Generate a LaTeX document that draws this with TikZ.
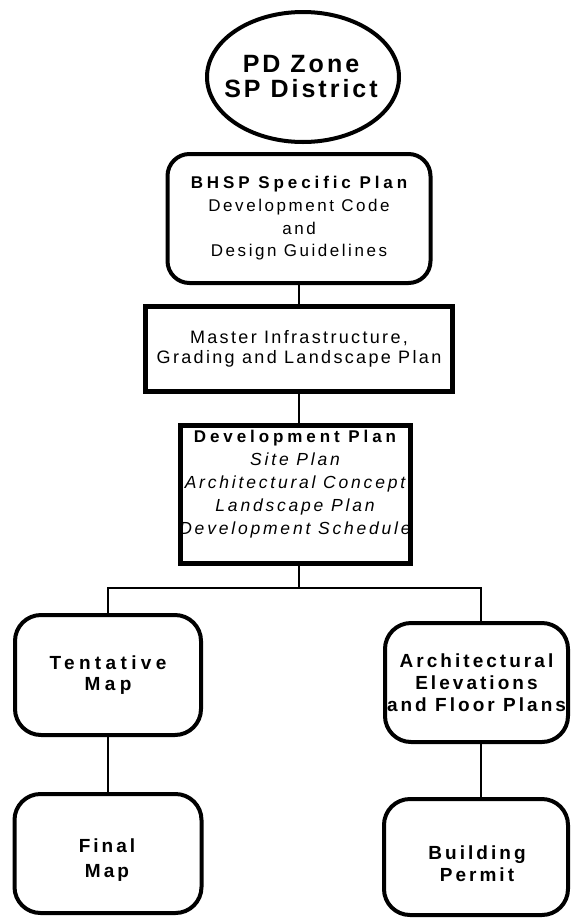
\documentclass[tikz,border=0pt]{standalone}
\usepackage{fontspec}
\setmainfont{Liberation Sans}
\newfontfamily\sfreg[LetterSpace=15]{Liberation Sans}
\newfontfamily\sfregM[LetterSpace=13]{Liberation Sans}
\newfontfamily\sfita[LetterSpace=16]{Liberation Sans}
\newfontfamily\sfbold[LetterSpace=23]{Liberation Sans}
\newfontfamily\sfboldB[LetterSpace=16]{Liberation Sans}
\newfontfamily\sfboldC[LetterSpace=12]{Liberation Sans}
\usetikzlibrary{shapes.geometric}
\begin{document}
\begin{tikzpicture}[x=1pt,y=-1pt,
  rbox/.style={draw, line width=4pt, rounded corners=26pt, inner sep=0pt, align=center},
  sbox/.style={draw, line width=5pt, inner sep=0pt, align=center},
  conn/.style={line width=2pt},
  txt/.style={align=center, inner sep=0pt},
  lowfont/.style={font=\sfboldB\bfseries\fontsize{19}{22}\selectfont}]
\useasboundingbox (0,0) rectangle (571,919);
\fill[white] (0,0) rectangle (571,919);

\node[ellipse, draw, line width=4pt, minimum width=192pt, minimum height=130pt,
  inner sep=0pt] (pd) at (303,77) {};
\node[txt, font=\sfboldC\bfseries\fontsize{25}{25}\selectfont] (pdtext) at (301,77)
  {PD Zone\\SP District};

\node[rbox, rounded corners=22pt, minimum width=263pt, minimum height=129pt,
  font=\sfreg\fontsize{17}{22.7}\selectfont] (bhsp) at (299,218.5)
  {{\sfbold\bfseries BHSP Specific Plan}\\Development Code\\and\\Design Guidelines};

\node[sbox, minimum width=307pt, minimum height=85pt,
  font=\sfregM\fontsize{18}{20}\selectfont] (master) at (299,349)
  {Master Infrastructure,\\Grading and Landscape Plan};

\node[sbox, minimum width=230pt, minimum height=138pt] (dev) at (295.5,494.5) {};
\node[txt, font=\sfita\fontsize{17.5}{23}\selectfont] (devtext) at (295,484)
  {{\sfbold\bfseries\fontsize{17}{23}\selectfont Development Plan}\\{\itshape Site Plan}\\{\itshape Architectural Concept}\\{\itshape Landscape Plan}\\{\itshape Development Schedule}};

\node[rbox, minimum width=186pt, minimum height=120pt,
  font=\sfbold\bfseries\fontsize{19}{21}\selectfont] (tent) at (108,675) {Tentative\\Map};
\node[rbox, lowfont, minimum width=183pt, minimum height=119pt] (arch) at (476.5,682.5)
  {Architectural\\Elevations\\and Floor Plans};
\node[rbox, minimum width=187pt, minimum height=119pt] (final) at (108,853.5) {};
\node[txt, font=\sfboldB\bfseries\fontsize{19}{25}\selectfont] (finaltext) at (107,860) {Final\\Map};
\node[rbox, minimum width=184pt, minimum height=116pt] (build) at (476,857) {};
\node[txt, lowfont] (buildtext) at (477,863.5) {Building\\Permit};

\coordinate (bar) at (299,588);
\draw[conn] (bhsp.south) -- (bhsp.south |- master.north);
\draw[conn] (master.south) -- (master.south |- dev.north);
\draw[conn] (dev.south -| bar) -- (bar);
\draw[conn] (tent.north) |- (bar) -| ([xshift=4.5pt]arch.north);
\draw[conn] (tent.south) -- (final.north);
\draw[conn] ([xshift=4pt]arch.south) -- ([xshift=4pt]arch.south |- build.north);
\end{tikzpicture}
\end{document}
